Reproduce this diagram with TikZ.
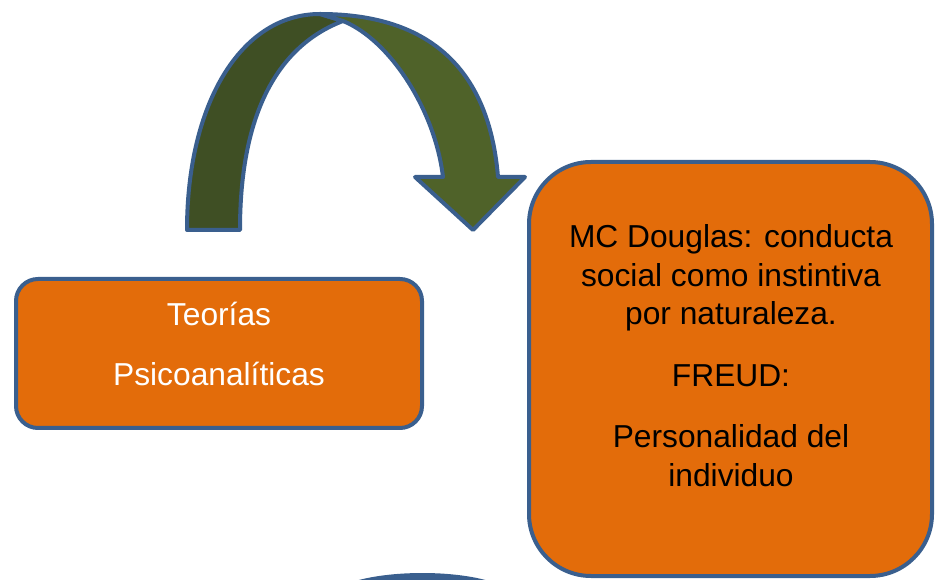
\documentclass[tikz,border=0pt]{standalone}
\usepackage{fontspec}
\setmainfont{Liberation Sans}
\definecolor{boxorange}{HTML}{E36C0A}
\definecolor{edgeblue}{HTML}{3A5F8E}
\definecolor{olivedark}{HTML}{3F4F24}
\definecolor{olivelight}{HTML}{4F6229}
\tikzset{
  boxshape/.style={draw=edgeblue, line width=3pt, fill=boxorange, inner sep=0pt},
  bandshape/.style={draw=edgeblue, line width=3pt, line join=round},
  txt/.style={anchor=base, inner sep=0pt, font=\fontsize{23.8}{28.9}\selectfont},
}
\begin{document}
\begin{tikzpicture}[x=0.75pt, y=-0.75pt]
\useasboundingbox (0,0) rectangle (935,580);
\clip (0,0) rectangle (935,580);
% boxes
\node[boxshape, rounded corners=16.5pt, minimum width=304.5pt, minimum height=111.75pt] (left) at (219,353.5) {};
\node[boxshape, rounded corners=46.5pt, minimum width=302.25pt, minimum height=310.5pt] (right) at (730.5,369) {};
% curved arrow
\draw[bandshape, fill=olivedark] (187,230) .. controls (187,105) and (240,14) .. (320,14)
  -- (343,21) .. controls (280,45) and (240,110) .. (240,230) -- cycle;
\draw[bandshape, fill=olivelight] (320,14) .. controls (440,14) and (490,80) .. (498,177)
  -- (525,177) -- (473,230) -- (415,177) -- (443,177)
  .. controls (435,110) and (390,40) .. (343,21) -- cycle;
% partial shape at bottom
\draw[bandshape, fill=edgeblue] (352,584) .. controls (390,572) and (455,572) .. (492,584) -- cycle;
% texts
\node[txt, text=white] (l1) at (219,326) {Teorías};
\node[txt, text=white] (l2) at (219,386) {Psicoanalíticas};
\node[txt] (r1) at (731,248) {MC Douglas: conducta};
\node[txt] (r2) at (731,287) {social como instintiva};
\node[txt] (r3) at (731,325) {por naturaleza.};
\node[txt] (r4) at (731,387) {FREUD:};
\node[txt] (r5) at (731,448) {Personalidad del};
\node[txt] (r6) at (731,487) {individuo};
\end{tikzpicture}
\end{document}
